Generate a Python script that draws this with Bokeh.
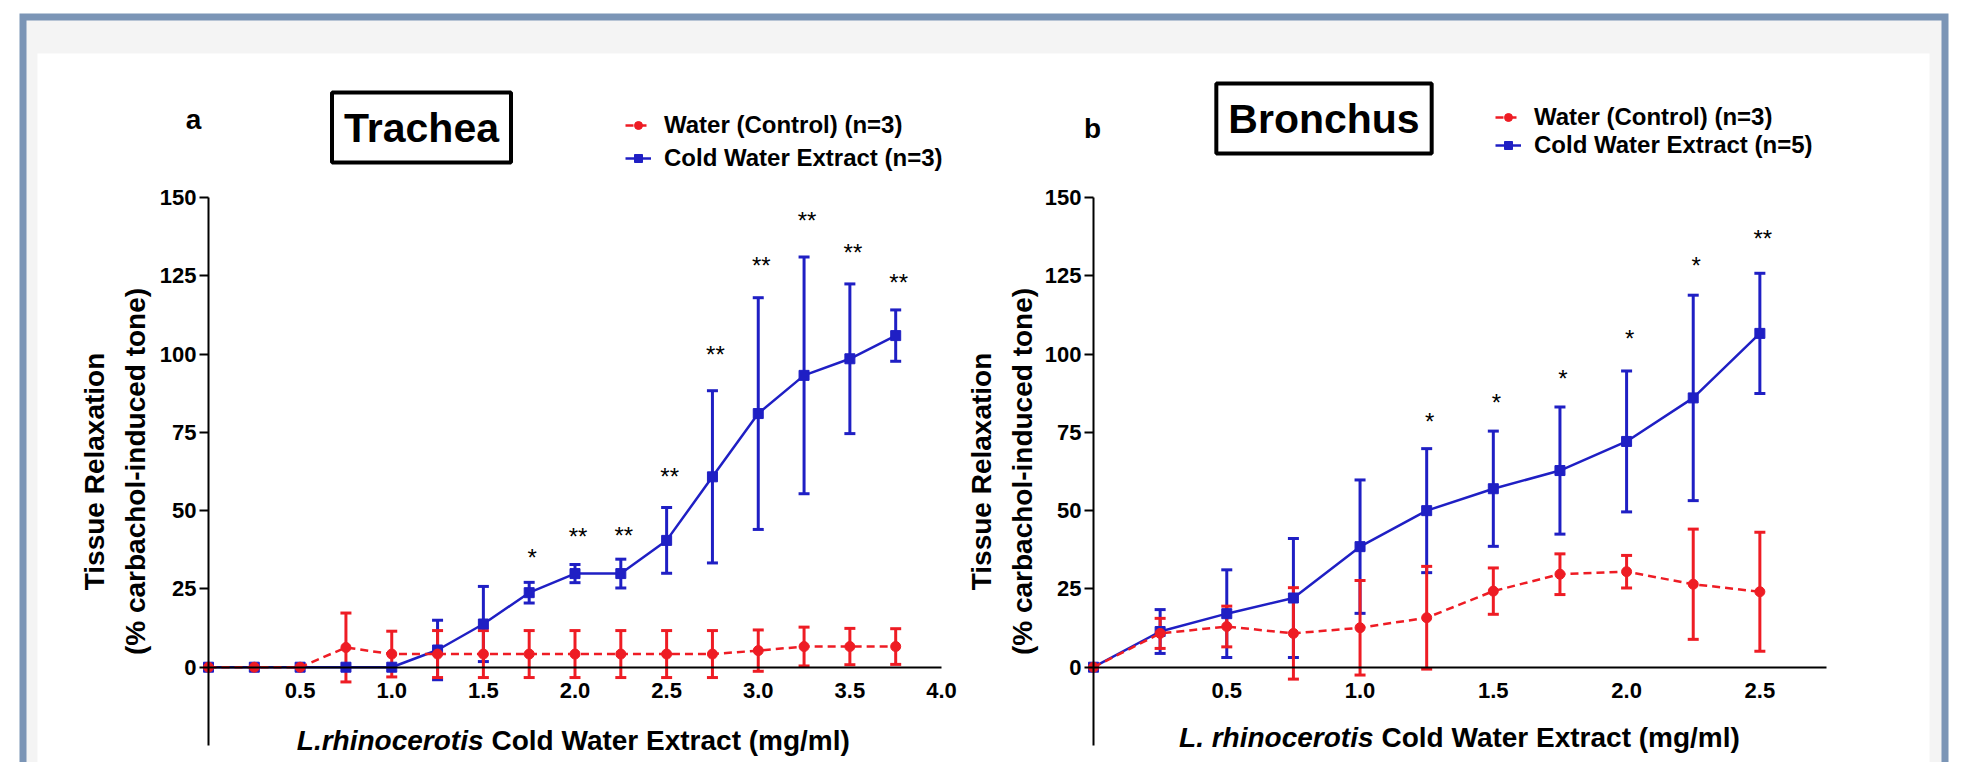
from bokeh.plotting import figure
from bokeh.models import (Range1d, FixedTicker, PrintfTickFormatter, Whisker, TeeHead,
                          ColumnDataSource, Legend, LegendItem, Label, BoxAnnotation, LinearAxis)
from bokeh.embed import file_html
from bokeh.resources import INLINE
from bokeh.core.properties import value

# ---------------- data ----------------
dose_a = [0, 0.25, 0.5, 0.75, 1.0, 1.25, 1.5, 1.75, 2.0, 2.25, 2.5, 2.75, 3.0, 3.25, 3.5, 3.75]
water_a_mean = [0, 0, 0, 6.3, 4.2, 4.2, 4.2, 4.2, 4.2, 4.2, 4.2, 4.2, 5.3, 6.6, 6.6, 6.6]
water_a_err = [0, 0, 0, 11.0, 7.3, 7.5, 7.5, 7.5, 7.5, 7.5, 7.5, 7.5, 6.6, 6.2, 5.8, 5.7]
extract_a_mean = [0, 0, 0, 0, 0, 5.5, 13.8, 23.8, 29.9, 29.9, 40.5, 60.8, 81.0, 93.2, 98.5, 105.9]
extract_a_err = [0, 0, 0, 0, 0, 9.5, 12.0, 3.3, 2.9, 4.6, 10.5, 27.5, 37.0, 37.8, 23.9, 8.2]
sig_a_x = [1.75, 2.0, 2.25, 2.5, 2.75, 3.0, 3.25, 3.5, 3.75]
sig_a_y = [36.9, 43.5, 43.9, 62.9, 101.9, 130.2, 144.7, 134.3, 124.8]
sig_a_text = ["*", "**", "**", "**", "**", "**", "**", "**", "**"]
xticks_a = [0.5, 1.0, 1.5, 2.0, 2.5, 3.0, 3.5, 4.0]

dose_b = [0, 0.25, 0.5, 0.75, 1.0, 1.25, 1.5, 1.75, 2.0, 2.25, 2.5]
water_b_mean = [0, 10.8, 13.0, 10.8, 12.6, 15.8, 24.3, 29.7, 30.5, 26.5, 24.1]
water_b_err = [0, 4.8, 6.5, 14.6, 15.1, 16.4, 7.4, 6.5, 5.2, 17.6, 19.0]
extract_b_mean = [0, 11.4, 17.1, 22.1, 38.5, 50.0, 57.0, 62.8, 72.1, 86.0, 106.6]
extract_b_err = [0, 7.0, 14.0, 19.0, 21.3, 19.8, 18.4, 20.3, 22.5, 32.8, 19.2]
sig_b_x = [1.25, 1.5, 1.75, 2.0, 2.25, 2.5]
sig_b_y = [80.5, 86.3, 94.1, 106.8, 130.3, 138.9]
sig_b_text = ["*", "*", "*", "*", "*", "**"]
xticks_b = [0.5, 1.0, 1.5, 2.0, 2.5]

yticks = [0, 25, 50, 75, 100, 125, 150]
legend_water_a = "Water (Control) (n=3)"
legend_extract_a = "Cold Water Extract (n=3)"
legend_water_b = "Water (Control) (n=3)"
legend_extract_b = "Cold Water Extract (n=5)"
y_label = "Tissue Relaxation\n(% carbachol-induced tone)"

# ---------------- style / layout (page pixels) ----------------
FONT = "Liberation Sans"
RED = "#ee1c24"
BLUE = "#1f1fc4"
BORDER = "#7b95b6"
BAND = "#f4f4f4"
PAGE_W, PAGE_H = 1963, 762
FRAME_W, FRAME_H = 733, 548       # data area of each panel (x: 0..xmax, y: -25..150)
YMIN, YMAX = -25, 150
AX_BOT = 745                       # page y of y = -25
X0_A, XMAX_A = 208, 4.0            # page x of panel a's x = 0
X0_B, XMAX_B = 1093, 2.75          # page x of panel b's x = 0


def yd(py):
    return YMIN + (AX_BOT - py) * (YMAX - YMIN) / FRAME_H


def xconv(x0px, xmax):
    return lambda px: (px - x0px) * xmax / FRAME_W


xa_px = xconv(X0_A, XMAX_A)
xb_px = xconv(X0_B, XMAX_B)

p = figure(width=PAGE_W, height=PAGE_H, min_border=0,
           x_range=Range1d(xa_px(0), xa_px(PAGE_W)),
           y_range=Range1d(yd(PAGE_H), yd(0)),
           output_backend="svg", toolbar_location=None,
           background_fill_color="white", border_fill_color="white",
           outline_line_color=None)
p.extra_x_ranges = {"b": Range1d(xb_px(0), xb_px(PAGE_W))}
p.grid.visible = False

# page decoration: blue frame, grey band, white panel
for (l, r, t, c) in ((19, 1948, 13, BORDER), (26, 1941, 20, BAND), (37, 1929, 53, "white")):
    p.add_layout(BoxAnnotation(left=xa_px(l), right=xa_px(r), top=yd(t), bottom=None,
                               fill_color=c, fill_alpha=1, line_alpha=0, level="underlay"))


def style_axes(xa, ya, xmax, xticks, label_standoff):
    xa.fixed_location = 0
    xa.bounds = (0, xmax)
    xa.ticker = FixedTicker(ticks=xticks)
    xa.formatter = PrintfTickFormatter(format="%.1f")
    xa.axis_line_width = 2
    xa.major_tick_out = 0
    xa.major_tick_in = 0
    xa.minor_tick_out = 0
    xa.minor_tick_in = 0
    xa.major_label_standoff = 16
    xa.major_label_text_font = FONT
    xa.major_label_text_font_style = "bold"
    xa.major_label_text_font_size = "22px"
    xa.major_label_text_color = "black"

    ya.fixed_location = 0
    ya.bounds = (YMIN, YMAX)
    ya.ticker = FixedTicker(ticks=yticks)
    ya.axis_line_width = 2
    ya.major_tick_out = 9
    ya.major_tick_in = 0
    ya.major_tick_line_width = 2
    ya.minor_tick_out = 0
    ya.minor_tick_in = 0
    ya.major_label_standoff = 3
    ya.major_label_text_font = FONT
    ya.major_label_text_font_style = "bold"
    ya.major_label_text_font_size = "22px"
    ya.major_label_text_color = "black"
    ya.axis_label = y_label
    ya.axis_label_text_font = FONT
    ya.axis_label_text_font_style = "bold"
    ya.axis_label_text_font_size = "28px"
    ya.axis_label_text_color = "black"
    ya.axis_label_text_line_height = 1.33
    ya.axis_label_standoff = label_standoff


def draw_panel(rn, xd, dose, w_mean, w_err, e_mean, e_err, sig_x, sig_y, sig_text,
               letter, letter_pos, title, title_pos, leg_labels, leg_glyph_left, leg_rows,
               xlab_italic, xlab_rest, xlab_split, xlab_y):
    rb_l = p.line(dose, e_mean, line_color=BLUE, line_width=2.5, x_range_name=rn)
    rb_s = p.scatter(dose, e_mean, marker="square", size=10, fill_color=BLUE, line_color=BLUE,
                     x_range_name=rn)
    rr_l = p.line(dose, w_mean, line_color=RED, line_width=2.5, line_dash="8 5", x_range_name=rn)
    rr_s = p.scatter(dose, w_mean, marker="circle", size=10, fill_color=RED, line_color=RED,
                     x_range_name=rn)

    for m, e, c in ((e_mean, e_err, BLUE), (w_mean, w_err, RED)):
        idx = [i for i in range(len(dose)) if e[i] > 0]
        src = ColumnDataSource(dict(x=[dose[i] for i in idx],
                                    lo=[m[i] - e[i] for i in idx],
                                    hi=[m[i] + e[i] for i in idx]))
        p.add_layout(Whisker(source=src, base="x", lower="lo", upper="hi", line_color=c,
                             line_width=3, x_range_name=rn,
                             upper_head=TeeHead(size=11, line_color=c, line_width=3),
                             lower_head=TeeHead(size=11, line_color=c, line_width=3)))

    p.text(x=sig_x, y=sig_y, text=sig_text, text_font=value(FONT), text_font_size="24px",
           text_color="black", text_align="center", text_baseline="middle",
           y_offset=6, x_offset=3, x_range_name=rn)

    p.add_layout(Label(x=xd(letter_pos[0]), y=yd(letter_pos[1]), text=letter, text_font=FONT,
                       text_font_style="bold", text_font_size="28px", text_color="black",
                       text_align="center", text_baseline="alphabetic", x_range_name=rn))
    p.add_layout(Label(x=xd(title_pos[0]), y=yd(title_pos[1]), text=title, text_font=FONT,
                       text_font_style="bold", text_font_size="41px", text_color="black",
                       text_align="center", text_baseline="middle",
                       border_line_color="black", border_line_width=4,
                       background_fill_color="white", padding=12, x_range_name=rn))
    p.add_layout(Label(x=xd(xlab_split), y=yd(xlab_y), text=xlab_italic, text_font=FONT,
                       text_font_style="bold italic", text_font_size="28px", text_color="black",
                       text_align="right", text_baseline="middle", x_range_name=rn))
    p.add_layout(Label(x=xd(xlab_split), y=yd(xlab_y), text=xlab_rest, text_font=FONT,
                       text_font_style="bold", text_font_size="28px", text_color="black",
                       text_align="left", text_baseline="middle", x_offset=8, x_range_name=rn))

    item_h = 28
    legend = Legend(items=[LegendItem(label=leg_labels[0], renderers=[rr_l, rr_s]),
                           LegendItem(label=leg_labels[1], renderers=[rb_l, rb_s])],
                    location=(leg_glyph_left, PAGE_H - (leg_rows[1] + item_h / 2)),
                    orientation="vertical", glyph_width=26, glyph_height=20,
                    label_standoff=13, spacing=(leg_rows[1] - leg_rows[0]) - item_h,
                    padding=0, margin=0, border_line_color=None, background_fill_alpha=0,
                    label_text_font=FONT, label_text_font_style="bold",
                    label_text_font_size="24px", label_text_color="black",
                    label_height=item_h)
    p.add_layout(legend, "center")


# panel a (default x range)
style_axes(p.xaxis[0], p.yaxis[0], XMAX_A, xticks_a, label_standoff=6)
draw_panel("default", xa_px, dose_a, water_a_mean, water_a_err, extract_a_mean, extract_a_err,
           sig_a_x, sig_a_y, sig_a_text, "a", (193, 119), "Trachea", (421, 127),
           (legend_water_a, legend_extract_a), 625, (125, 158),
           "L.rhinocerotis", "Cold Water Extract (mg/ml)", 483, 740)

# panel b (extra x range "b")
xaxis_b = LinearAxis(x_range_name="b")
yaxis_b = LinearAxis(x_range_name="b")
p.add_layout(xaxis_b, "below")
p.add_layout(yaxis_b, "left")
style_axes(xaxis_b, yaxis_b, XMAX_B, xticks_b, label_standoff=4)
draw_panel("b", xb_px, dose_b, water_b_mean, water_b_err, extract_b_mean, extract_b_err,
           sig_b_x, sig_b_y, sig_b_text, "b", (1092, 128), "Bronchus", (1323.5, 118),
           (legend_water_b, legend_extract_b), 1495, (117, 145),
           "L. rhinocerotis", "Cold Water Extract (mg/ml)", 1373, 737)

open("out.html", "w").write(file_html(p, INLINE))
